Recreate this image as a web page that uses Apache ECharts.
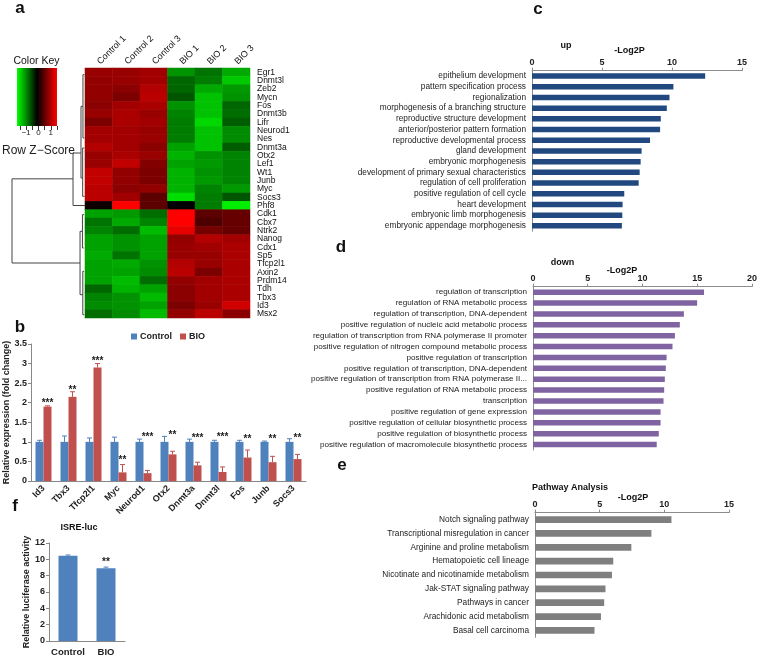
<!DOCTYPE html>
<html><head><meta charset="utf-8">
<script src="https://cdn.jsdelivr.net/npm/echarts@6/dist/echarts.min.js"></script>
<style>html,body{margin:0;padding:0;background:#fff}#c{width:760px;height:657px}</style>
</head><body><div id="c"></div>
<script>
// ---------- Panel a: heatmap ----------
const samples = ['Control 1','Control 2','Control 3','BIO 1','BIO 2','BIO 3'];
const genes = ['Egr1','Dnmt3l','Zeb2','Mycn','Fos','Dnmt3b','Lifr','Neurod1','Nes','Dnmt3a','Otx2','Lef1','Wt1','Junb','Myc','Socs3','Phf8','Cdk1','Cbx7','Ntrk2','Nanog','Cdx1','Sp5','Tfcp2l1','Axin2','Prdm14','Tdh','Tbx3','Id3','Msx2'];
const zScores = [
 [0.90,0.90,0.95,-0.87,-0.68,-1.00],
 [0.86,0.90,0.95,-0.60,-0.73,-1.18],
 [0.86,0.82,1.05,-0.60,-1.00,-0.90],
 [0.86,0.73,1.10,-0.50,-1.14,-0.86],
 [0.82,0.95,1.00,-0.86,-1.14,-0.60],
 [0.90,1.00,0.90,-0.77,-1.14,-0.64],
 [0.73,1.00,0.95,-0.73,-1.27,-0.55],
 [0.95,0.95,0.90,-0.73,-1.14,-0.82],
 [0.95,0.95,0.90,-0.73,-1.14,-0.82],
 [1.05,0.95,0.82,-0.95,-1.14,-0.55],
 [0.90,1.00,0.90,-1.05,-0.86,-0.77],
 [0.90,1.14,0.77,-0.95,-0.90,-0.77],
 [1.14,0.86,0.73,-1.05,-0.86,-0.77],
 [1.14,0.86,0.73,-1.05,-0.90,-0.77],
 [1.10,0.82,0.86,-1.05,-0.77,-0.90],
 [1.10,0.95,0.55,-1.30,-0.73,-0.50],
 [0.09,1.50,0.55,0.00,-0.73,-1.40],
 [-0.95,-0.90,-0.64,1.50,0.55,0.60],
 [-0.68,-1.00,-0.77,1.50,0.45,0.60],
 [-0.77,-0.64,-1.10,1.35,0.68,0.60],
 [-0.95,-0.86,-0.95,0.86,1.05,0.95],
 [-0.95,-0.86,-0.95,0.90,0.95,1.00],
 [-1.00,-0.68,-0.95,0.90,0.90,1.00],
 [-0.95,-1.00,-0.86,1.05,0.90,1.00],
 [-0.95,-0.95,-0.82,1.10,0.73,1.00],
 [-0.95,-1.10,-0.64,0.86,0.95,1.00],
 [-0.60,-1.05,-0.95,0.82,0.95,1.00],
 [-0.77,-0.86,-1.10,0.82,0.95,1.00],
 [-0.82,-0.86,-0.95,0.73,0.90,1.23],
 [-0.64,-0.82,-1.10,0.86,1.10,0.82]
];
// dendrogram merges: [mergeHeight, rowA, childHeightA, rowB, childHeightB]
const dendroMerges = [
 [1.0, 13.3, 0.164, 23.4, 0.068],
 [0.164, 10.2, 0.055, 16.5, 0],
 [0.055, 4.6, 0.028, 13.2, 0.032],
 [0.028, 0.8, 0.008, 8.4, 0.01],
 [0.032, 9.6, 0.01, 15.4, 0.006],
 [0.068, 19.6, 0.035, 27.2, 0.03],
 [0.035, 17.6, 0.012, 21.6, 0.018],
 [0.03, 24.4, 0.012, 29.6, 0.01]
];
const keyTicks = [-1, 0, 1];

// ---------- Panel b: qPCR ----------
const qpcrGenes = ['Id3','Tbx3','Tfcp2l1','Myc','Neurod1','Otx2','Dnmt3a','Dnmt3l','Fos','Junb','Socs3'];
const ctrlMean = [1,1,1,1,1,1,1,1,1,1,1];
const ctrlErr  = [0.04,0.15,0.10,0.12,0.07,0.14,0.07,0.04,0.04,0.02,0.08];
const bioMean  = [1.90,2.15,2.90,0.22,0.20,0.68,0.40,0.23,0.60,0.48,0.56];
const bioErr   = [0.02,0.13,0.10,0.20,0.07,0.08,0.08,0.13,0.19,0.15,0.12];
const starText = ['***','**','***','**','***','**','***','***','**','**','**'];
const starY    = [2.05,2.37,3.11,0.58,1.18,1.22,1.15,1.18,1.12,1.12,1.14];

// ---------- Panel f: ISRE-luc ----------
const lucGroups = ['Control','BIO'];
const lucMean = [10.45, 8.9];
const lucErr  = [0.08, 0.15];
const lucStars = ['', '**'];
const lucStarY = [0, 9.85];

// ---------- Panel c: GO up ----------
const upTerms = ['epithelium development','pattern specification process','regionalization','morphogenesis of a branching structure','reproductive structure development','anterior/posterior pattern formation','reproductive developmental process','gland development','embryonic morphogenesis','development of primary sexual characteristics','regulation of cell proliferation','positive regulation of cell cycle','heart development','embryonic limb morphogenesis','embryonic appendage morphogenesis'];
const upValues = [12.37,10.10,9.82,9.63,9.20,9.15,8.43,7.83,7.76,7.69,7.62,6.59,6.47,6.45,6.42];

// ---------- Panel d: GO down ----------
const downTerms = ['regulation of transcription','regulation of RNA metabolic process','regulation of transcription, DNA-dependent','positive regulation of nucleic acid metabolic process','regulation of transcription from RNA polymerase II promoter','positive regulation of nitrogen compound metabolic process','positive regulation of transcription','positive regulation of transcription, DNA-dependent','positive regulation of transcription from RNA polymerase II...','positive regulation of RNA metabolic process','transcription','positive regulation of gene expression','positive regulation of cellular biosynthetic process','positive regulation of biosynthetic process','positive regulation of macromolecule biosynthetic process'];
const downValues = [15.62,14.99,13.78,13.41,12.96,12.74,12.20,12.13,12.04,11.98,11.92,11.65,11.65,11.49,11.30];

// ---------- Panel e: pathways ----------
const pathTerms = ['Notch signaling pathway','Transcriptional misregulation in cancer','Arginine and proline metabolism','Hematopoietic cell lineage','Nicotinate and nicotinamide metabolism','Jak-STAT signaling pathway','Pathways in cancer','Arachidonic acid metabolism','Basal cell carcinoma'];
const pathValues = [10.55,9.00,7.45,6.05,5.95,5.45,5.35,5.10,4.60];

// ================= build =================
const FONT = 'Liberation Sans, Arial, sans-serif';
const chart = echarts.init(document.getElementById('c'), null, {renderer:'canvas'});

const heatData = [];
zScores.forEach((row, r) => row.forEach((z, c) => heatData.push([c, r, z])));
const dendroData = dendroMerges.map(m => ({coords: [[m[2], m[1]], [m[0], m[1]], [m[0], m[3]], [m[4], m[3]]]}));

const BLUE = '#4F81BD', RED = '#C0504D';
const BW = 8; // bar width panel b

function errBar(meanArr, errArr, side, color, bw) {
  return function (params, api) {
    const i = api.value(0), v = api.value(1), e = api.value(2);
    const p0 = api.coord([i, v]), p1 = api.coord([i, v + e]);
    const x = p0[0] + side * bw / 2;
    return {type: 'group', children: [
      {type: 'line', shape: {x1: x, y1: p0[1], x2: x, y2: p1[1]}, style: {stroke: color, lineWidth: 1}},
      {type: 'line', shape: {x1: x - 2.5, y1: p1[1], x2: x + 2.5, y2: p1[1]}, style: {stroke: color, lineWidth: 1}}
    ]};
  };
}
function starRender(texts, side, bw) {
  return function (params, api) {
    const i = api.value(0), y = api.value(1);
    const p = api.coord([i, y]);
    return {type: 'text', style: {text: texts[params.dataIndex], x: p[0] + side * bw / 2, y: p[1] + 2, align: 'center', verticalAlign: 'middle', font: 'bold 10px ' + FONT, fill: '#222'}};
  };
}

const txt = (t, x, y, size, bold, align) => ({type: 'text', style: {text: t, x: x, y: y, align: align || 'center', verticalAlign: 'middle', font: (bold ? 'bold ' : '') + size + 'px ' + FONT, fill: '#111'}});

const goY = (terms, gi, fs) => ({gridIndex: gi, type: 'category', data: terms, inverse: true,
  axisLine: {lineStyle: {color: '#8c8c8c'}}, axisTick: {show: false},
  axisLabel: {fontSize: fs, fontFamily: FONT, color: '#222', margin: 6, interval: 0}});
const goX = (max, gi) => ({gridIndex: gi, type: 'value', position: 'top', min: 0, max: max, interval: 5,
  splitLine: {show: false}, axisLine: {show: true, lineStyle: {color: '#8c8c8c'}},
  axisTick: {show: true, length: 3, inside: false, lineStyle: {color: '#8c8c8c'}},
  axisLabel: {fontSize: 9, fontWeight: 'bold', fontFamily: FONT, color: '#222', margin: 4}});

const option = {
  animation: false,
  backgroundColor: '#fff',
  textStyle: {fontFamily: FONT},
  grid: [
    {left: 85, top: 68, width: 165, height: 250},
    {left: 12, top: 68, width: 73, height: 250},
    {left: 17, top: 68, width: 40, height: 58},
    {left: 31, top: 344, width: 275, height: 137},
    {left: 49, top: 543, width: 76, height: 99},
    {left: 532, top: 70.7, width: 210, height: 160.5},
    {left: 533, top: 286.7, width: 219, height: 163.3},
    {left: 535, top: 512.7, width: 194, height: 124.6}
  ],
  xAxis: [
    {gridIndex: 0, type: 'category', data: samples, position: 'top', axisLine: {show: false}, axisTick: {show: false},
     axisLabel: {rotate: -45, fontSize: 9, fontFamily: FONT, color: '#111', margin: 5, interval: 0}},
    {gridIndex: 1, type: 'value', min: 0, max: 1, inverse: true, show: false},
    {gridIndex: 2, type: 'value', min: -1.5, max: 1.5, interval: 0.5, splitLine: {show: false},
     axisLine: {show: false}, axisTick: {show: true, length: 4, lineStyle: {color: '#333'}},
     axisLabel: {fontSize: 8, color: '#222', margin: 3, formatter: v => keyTicks.indexOf(v) >= 0 ? String(v).replace('-', '\u2212') : ''},
     name: 'Row Z\u2212Score', nameLocation: 'middle', nameGap: 19, nameTextStyle: {fontSize: 12, color: '#222'}},
    {gridIndex: 3, type: 'category', data: qpcrGenes, axisLine: {lineStyle: {color: '#888'}}, axisTick: {show: false},
     axisLabel: {rotate: 45, fontSize: 9, fontWeight: 'bold', color: '#222', margin: 6, interval: 0}},
    {gridIndex: 4, type: 'category', data: lucGroups, axisLine: {lineStyle: {color: '#888'}}, axisTick: {show: false},
     axisLabel: {fontSize: 9.5, fontWeight: 'bold', color: '#222', margin: 6, interval: 0}},
    goX(15, 5), goX(20, 6), goX(15, 7)
  ],
  yAxis: [
    {gridIndex: 0, type: 'category', data: genes, inverse: true, position: 'right', axisLine: {show: false}, axisTick: {show: false},
     axisLabel: {fontSize: 8.5, fontFamily: FONT, color: '#111', margin: 7, interval: 0}},
    {gridIndex: 1, type: 'value', min: 0, max: 30, inverse: true, show: false},
    {gridIndex: 2, type: 'value', min: 0, max: 1, show: false},
    {gridIndex: 3, type: 'value', min: 0, max: 3.5, interval: 0.5, splitLine: {show: false},
     axisLine: {show: true, lineStyle: {color: '#888'}}, axisTick: {show: true, length: 3, lineStyle: {color: '#888'}},
     axisLabel: {fontSize: 9, fontWeight: 'bold', color: '#222', margin: 4},
     name: 'Relative expression (fold change)', nameLocation: 'middle', nameGap: 19, nameRotate: 90,
     nameTextStyle: {fontSize: 9, fontWeight: 'bold', color: '#222'}},
    {gridIndex: 4, type: 'value', min: 0, max: 12, interval: 2, splitLine: {show: false},
     axisLine: {show: true, lineStyle: {color: '#888'}}, axisTick: {show: true, length: 3, lineStyle: {color: '#888'}},
     axisLabel: {fontSize: 9, fontWeight: 'bold', color: '#222', margin: 4},
     name: 'Relative luciferase activity', nameLocation: 'middle', nameGap: 17, nameRotate: 90,
     nameTextStyle: {fontSize: 9, fontWeight: 'bold', color: '#222'}},
    goY(upTerms, 5, 8.3), goY(downTerms, 6, 8.1), goY(pathTerms, 7, 8.3)
  ],
  visualMap: [{show: false, seriesIndex: 0, min: -1.5, max: 1.5, dimension: 2,
    inRange: {color: ['#00FF00', '#000000', '#FF0000']}}],
  legend: {left: 131, top: 332, itemWidth: 6, itemHeight: 6, itemGap: 8, padding: 0, icon: 'rect',
    data: ['Control', 'BIO'], textStyle: {fontSize: 9, fontWeight: 'bold', color: '#222', padding: [0, 0, 0, -2]}},
  graphic: [
    {type: 'rect', shape: {x: 17, y: 68, width: 40, height: 58}, style: {fill: new echarts.graphic.LinearGradient(0, 0, 1, 0, [
      {offset: 0, color: '#00FF00'}, {offset: 0.5, color: '#000000'}, {offset: 1, color: '#FF0000'}])}},
    txt('Color Key', 36.5, 61.5, 10.5, false),
    txt('a', 20, 8, 17, true), txt('b', 20, 327, 17, true), txt('c', 538, 9, 17, true),
    txt('d', 341, 247, 17, true), txt('e', 342, 465, 17, true), txt('f', 15, 506, 17, true),
    txt('up', 566, 45.5, 9, true), txt('-Log2P', 629.5, 50.5, 9, true),
    txt('down', 562.5, 262.5, 9, true), txt('-Log2P', 622, 270.5, 9, true),
    txt('Pathway Analysis', 570, 488, 9, true), txt('-Log2P', 633, 498, 9, true),
    txt('ISRE-luc', 79, 528, 9, true)
  ],
  series: [
    {type: 'heatmap', xAxisIndex: 0, yAxisIndex: 0, data: heatData},
    {type: 'lines', coordinateSystem: 'cartesian2d', xAxisIndex: 1, yAxisIndex: 1, polyline: true, data: dendroData,
     lineStyle: {color: '#444', width: 1, opacity: 1}, silent: true},
    {type: 'scatter', xAxisIndex: 2, yAxisIndex: 2, data: [], silent: true},
    // panel b
    {name: 'Control', type: 'bar', xAxisIndex: 3, yAxisIndex: 3, data: ctrlMean, barWidth: BW, barGap: '0%', itemStyle: {color: BLUE}},
    {name: 'BIO', type: 'bar', xAxisIndex: 3, yAxisIndex: 3, data: bioMean, barWidth: BW, barGap: '0%', itemStyle: {color: RED}},
    {type: 'custom', xAxisIndex: 3, yAxisIndex: 3, z: 5, renderItem: errBar(ctrlMean, ctrlErr, -1, BLUE, BW),
     data: ctrlMean.map((v, i) => [i, v, ctrlErr[i]])},
    {type: 'custom', xAxisIndex: 3, yAxisIndex: 3, z: 5, renderItem: errBar(bioMean, bioErr, 1, RED, BW),
     data: bioMean.map((v, i) => [i, v, bioErr[i]])},
    {type: 'custom', xAxisIndex: 3, yAxisIndex: 3, z: 6, renderItem: starRender(starText, 1, BW),
     data: starY.map((v, i) => [i, v])},
    // panel f
    {type: 'bar', xAxisIndex: 4, yAxisIndex: 4, data: lucMean, barWidth: 19, itemStyle: {color: BLUE}},
    {type: 'custom', xAxisIndex: 4, yAxisIndex: 4, z: 5, renderItem: errBar(lucMean, lucErr, 0, BLUE, 0),
     data: lucMean.map((v, i) => [i, v, lucErr[i]])},
    {type: 'custom', xAxisIndex: 4, yAxisIndex: 4, z: 6, renderItem: starRender(lucStars, 0, 0),
     data: lucStarY.map((v, i) => [i, v])},
    // panels c, d, e
    {type: 'bar', xAxisIndex: 5, yAxisIndex: 5, data: upValues, barWidth: 5.5, itemStyle: {color: '#21497F'}},
    {type: 'bar', xAxisIndex: 6, yAxisIndex: 6, data: downValues, barWidth: 5.5, itemStyle: {color: '#8064A2'}},
    {type: 'bar', xAxisIndex: 7, yAxisIndex: 7, data: pathValues, barWidth: 6.7, itemStyle: {color: '#7F7F7F'}}
  ]
};
chart.setOption(option);
</script>
</body></html>
